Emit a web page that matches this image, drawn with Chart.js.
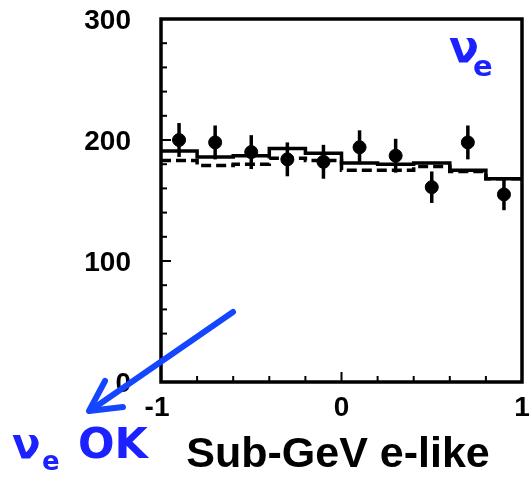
<!DOCTYPE html>
<html>
<head>
<meta charset="utf-8">
<script src="https://cdn.jsdelivr.net/npm/chart.js@4.4.1/dist/chart.umd.min.js"></script>
<style>
    body { margin: 0; background: #fff; }
    #wrap { width: 530px; height: 480px; position: relative; }
</style>
</head>
<body>
<div id="wrap"><canvas id="zenithChart"></canvas></div>
<script>
// Sub-GeV e-like zenith angle distribution

const binCenters = [-0.9, -0.7, -0.5, -0.3, -0.1, 0.1, 0.3, 0.5, 0.7, 0.9];
const binEdges = [-1, -0.8, -0.6, -0.4, -0.2, 0, 0.2, 0.4, 0.6, 0.8, 1];
const dataValues = [200, 198, 190, 184, 182, 194, 187, 161, 198, 155];
const dataErrors = [14, 14, 14, 14, 14, 14, 14, 13, 14, 13];
const solidMC = [191, 186, 187, 193, 189, 181, 180, 181, 175, 168];   // no oscillation
const dashedMC = [183, 179, 180, 185, 183, 175, 175, 178, 174, 168];  // oscillation fit
const yTickLabels = [0, 100, 200, 300];
const xTickLabels = [-1, 0, 1];

const BLUE_TXT = '#1c22ff';
const BLUE_ARROW = '#1446ff';
const LABEL_FONT = '"Liberation Sans", Arial, sans-serif';

function stepData(vals) {
    return binEdges.map((e, i) => ({ x: e, y: vals[Math.min(i, vals.length - 1)] }));
}

// frame, inward ticks, tick labels, error bars, title and the blue annotations
const decorPlugin = {
    id: 'decor',
    beforeDatasetsDraw(chart) {
        const ctx = chart.ctx;
        const xs = chart.scales.x, ys = chart.scales.y;
        ctx.save();
        ctx.strokeStyle = '#000';
        ctx.lineWidth = 3.5;
        binCenters.forEach((c, i) => {
            const px = xs.getPixelForValue(c);
            ctx.beginPath();
            ctx.moveTo(px, ys.getPixelForValue(dataValues[i] - dataErrors[i]));
            ctx.lineTo(px, ys.getPixelForValue(dataValues[i] + dataErrors[i]));
            ctx.stroke();
        });
        ctx.restore();
    },
    afterDraw(chart) {
        const ctx = chart.ctx;
        const a = chart.chartArea;
        const xs = chart.scales.x, ys = chart.scales.y;
        ctx.save();
        ctx.strokeStyle = '#000';
        ctx.lineWidth = 3.5;
        ctx.strokeRect(a.left, a.top, a.right - a.left, a.bottom - a.top);

        // y ticks
        ctx.lineWidth = 2;
        for (let v = 20; v < 300; v += 20) {
            const py = ys.getPixelForValue(v);
            const len = v % 100 === 0 ? 10 : 6;
            ctx.beginPath();
            ctx.moveTo(a.left, py);
            ctx.lineTo(a.left + len, py);
            ctx.stroke();
        }
        // x ticks
        for (let k = -4; k <= 4; k++) {
            const px = xs.getPixelForValue(k * 0.2);
            const len = k === 0 ? 10 : 6;
            ctx.beginPath();
            ctx.moveTo(px, a.bottom);
            ctx.lineTo(px, a.bottom - len);
            ctx.stroke();
        }

        // tick labels
        ctx.fillStyle = '#000';
        ctx.font = 'bold 28px ' + LABEL_FONT;
        ctx.textAlign = 'right';
        ctx.textBaseline = 'middle';
        yTickLabels.forEach(v => {
            ctx.fillText(String(v), a.left - 30, ys.getPixelForValue(v) + 2);
        });
        ctx.font = 'bold 28px ' + LABEL_FONT;
        ctx.textAlign = 'center';
        xTickLabels.forEach(v => {
            const off = v < 0 ? -4 : 0;
            ctx.fillText(String(v), xs.getPixelForValue(v) + off, a.bottom + 26);
        });

        // axis title
        ctx.font = 'bold 43px ' + LABEL_FONT;
        ctx.textAlign = 'center';
        ctx.textBaseline = 'alphabetic';
        ctx.fillText('Sub-GeV e-like', 338, 467);

        // blue annotations
        ctx.fillStyle = BLUE_TXT;
        ctx.textAlign = 'left';
        ctx.font = 'bold 44px "DejaVu Sans", sans-serif';
        ctx.fillText('\u03bd', 449, 62);
        ctx.font = 'bold 29px "DejaVu Sans", sans-serif';
        ctx.fillText('e', 473, 76);

        ctx.font = 'bold 42px "DejaVu Sans", sans-serif';
        ctx.fillText('\u03bd', 12, 458);
        ctx.font = 'bold 26px "DejaVu Sans", sans-serif';
        ctx.fillText('e', 42, 470);
        ctx.font = 'bold 43px "DejaVu Sans", sans-serif';
        ctx.fillText('OK', 78, 458);

        ctx.strokeStyle = BLUE_ARROW;
        ctx.lineWidth = 6;
        ctx.lineCap = 'round';
        ctx.lineJoin = 'round';
        ctx.beginPath();
        ctx.moveTo(233, 312);
        ctx.lineTo(91, 410);
        ctx.stroke();
        ctx.beginPath();
        ctx.moveTo(105, 381);
        ctx.lineTo(89, 411);
        ctx.lineTo(123, 407);
        ctx.stroke();
        ctx.restore();
    }
};

const ctx = document.getElementById('zenithChart').getContext('2d');
const zenithChart = new Chart(ctx, {
    type: 'scatter',
    data: {
        datasets: [
            {
                label: 'Data',
                data: binCenters.map((c, i) => ({ x: c, y: dataValues[i] })),
                backgroundColor: '#000',
                borderColor: '#000',
                pointRadius: 6.5,
                pointHoverRadius: 6.5
            },
            {
                type: 'line',
                label: 'MC no osc',
                data: stepData(solidMC),
                stepped: 'before',
                borderColor: '#000',
                borderWidth: 3.5,
                pointRadius: 0,
                fill: false
            },
            {
                type: 'line',
                label: 'MC osc',
                data: stepData(dashedMC),
                stepped: 'before',
                borderColor: '#000',
                borderWidth: 3.5,
                borderDash: [10, 5],
                pointRadius: 0,
                fill: false
            }
        ]
    },
    options: {
        responsive: true,
        maintainAspectRatio: false,
        animation: false,
        layout: {
            padding: { top: 19, right: 8, left: 0, bottom: 0 }
        },
        plugins: {
            legend: { display: false },
            tooltip: { enabled: false }
        },
        scales: {
            x: {
                type: 'linear',
                min: -1,
                max: 1,
                afterFit: (scale) => { scale.height = 98; },
                grid: { display: false },
                border: { display: false },
                ticks: { display: false }
            },
            y: {
                min: 0,
                max: 300,
                afterFit: (scale) => { scale.width = 161; },
                grid: { display: false },
                border: { display: false },
                ticks: { display: false }
            }
        }
    },
    plugins: [decorPlugin]
});
</script>
</body>
</html>
